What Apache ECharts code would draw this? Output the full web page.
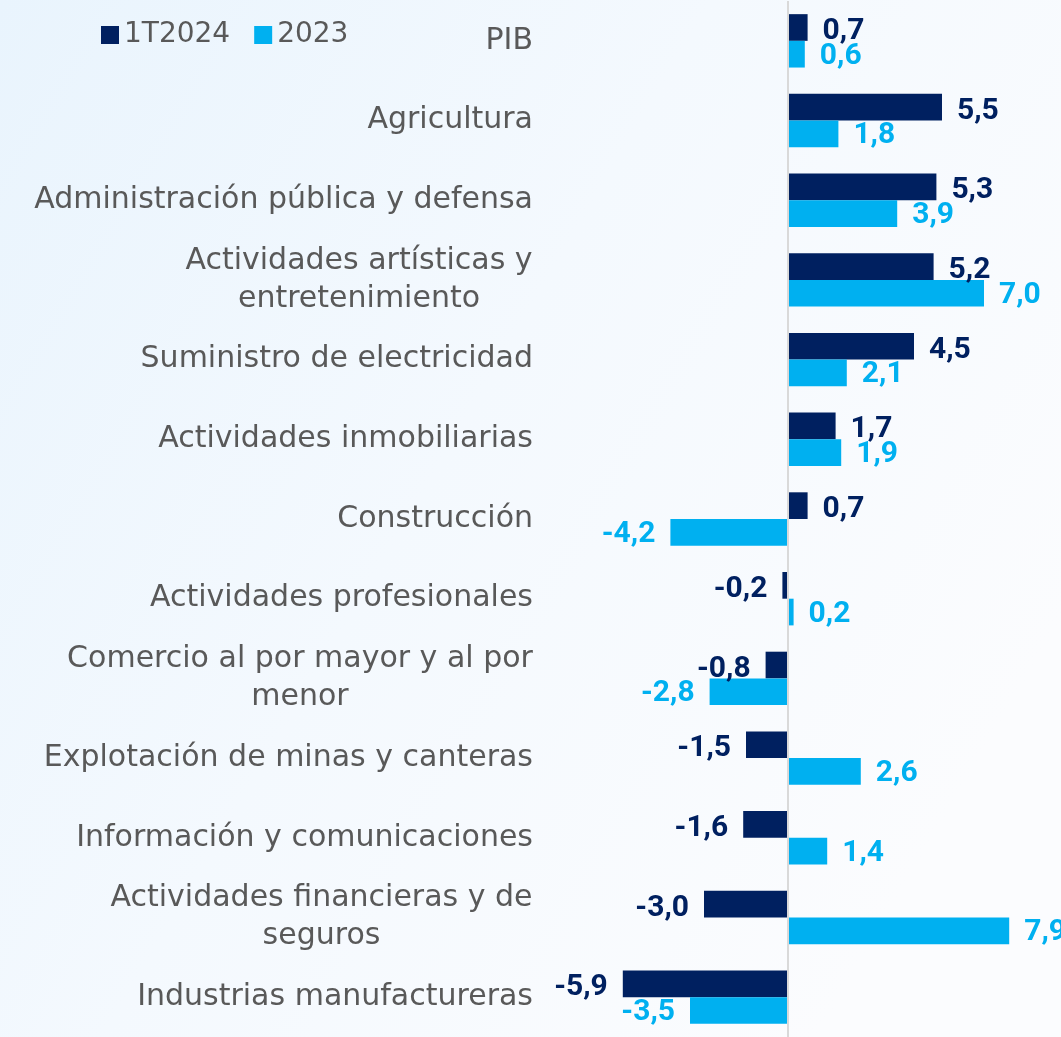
<!DOCTYPE html>
<html><head><meta charset="utf-8">
<script src="https://cdn.jsdelivr.net/npm/echarts@6/dist/echarts.min.js"></script>
<style>html,body{margin:0;padding:0;background:#fff}#c{width:1061px;height:1037px}</style>
</head><body><div id="c"></div>
<script>
const categories = ['PIB','Agricultura','Administración pública y defensa','Actividades artísticas y\nentretenimiento','Suministro de electricidad','Actividades inmobiliarias','Construcción','Actividades profesionales','Comercio al por mayor y al por\nmenor','Explotación de minas y canteras','Información y comunicaciones','Actividades financieras y de\nseguros','Industrias manufactureras'];
const series1T2024 = [0.7,5.5,5.3,5.2,4.5,1.7,0.7,-0.2,-0.8,-1.5,-1.6,-3.0,-5.9];
const series2023 = [0.6,1.8,3.9,7.0,2.1,1.9,-4.2,0.2,-2.8,2.6,1.4,7.9,-3.5];
const seriesNames = ['1T2024','2023'];

const CAT_SIZE = 30;
const mctx = document.createElement('canvas').getContext('2d');
mctx.font = CAT_SIZE + 'px "DejaVu Sans"';
const rich = {};
const fmtCat = {};
categories.forEach((c, i) => {
  const lines = c.split('\n');
  if (lines.length > 1) {
    const w = Math.max(...lines.map(l => mctx.measureText(l).width));
    rich['m' + i] = {width: Math.ceil(w), align: 'center', fontSize: CAT_SIZE, fontFamily: 'DejaVu Sans', color: '#595959', lineHeight: 38};
    fmtCat[c] = lines.map(l => '{m' + i + '|' + l + '}').join('\n');
  } else {
    fmtCat[c] = c;
  }
});

const fmtVal = p => p.value.toFixed(1).replace('.', ',');
function labelData(vals) {
  return vals.map(v => ({value: v, label: {position: v < 0 ? 'left' : 'right'}}));
}
const valLabel = (color, dy) => ({show: true, distance: 15, offset: [0, dy], formatter: fmtVal, fontSize: 30, fontWeight: 'bold', fontFamily: 'Roboto', color: color});
const chart = echarts.init(document.getElementById('c'));
chart.setOption({
  backgroundColor: {type: 'linear', x: 0, y: 0, x2: 1, y2: 0.6, colorStops: [
    {offset: 0, color: '#e9f4fd'}, {offset: 0.5, color: '#f4f9fe'}, {offset: 1, color: '#fbfcfe'}]},
  animation: false,
  legend: {
    left: 96, top: 16, itemWidth: 18, itemHeight: 18, itemGap: 24,
    icon: 'rect',
    textStyle: {fontSize: 28, fontFamily: 'DejaVu Sans', color: '#595959'},
    data: seriesNames
  },
  grid: {left: 550, right: 7, top: 1, height: 1045, containLabel: false},
  xAxis: {type: 'value', min: -8.5, max: 9.5, show: false, splitLine: {show: false}},
  yAxis: {
    type: 'category', data: categories, inverse: true,
    axisLine: {show: false, onZero: false}, axisTick: {show: false},
    axisLabel: {margin: 17, fontSize: CAT_SIZE, fontFamily: 'DejaVu Sans', color: '#595959', lineHeight: 38,
      formatter: v => fmtCat[v], rich: rich}
  },
  series: [
    {name: seriesNames[0], type: 'bar', data: labelData(series1T2024), barGap: '0%', barCategoryGap: '33%',
     itemStyle: {color: '#002060'},
     label: valLabel('#002060', 4),
     markLine: {silent: true, symbol: 'none', label: {show: false}, lineStyle: {color: '#d9d9d9', width: 2, type: 'solid'}, data: [{xAxis: 0}]}
    },
    {name: seriesNames[1], type: 'bar', data: labelData(series2023), barGap: '0%', barCategoryGap: '33%',
     itemStyle: {color: '#00b0f0'},
     label: valLabel('#00b0f0', 2)
    }
  ]
});
</script></body></html>
